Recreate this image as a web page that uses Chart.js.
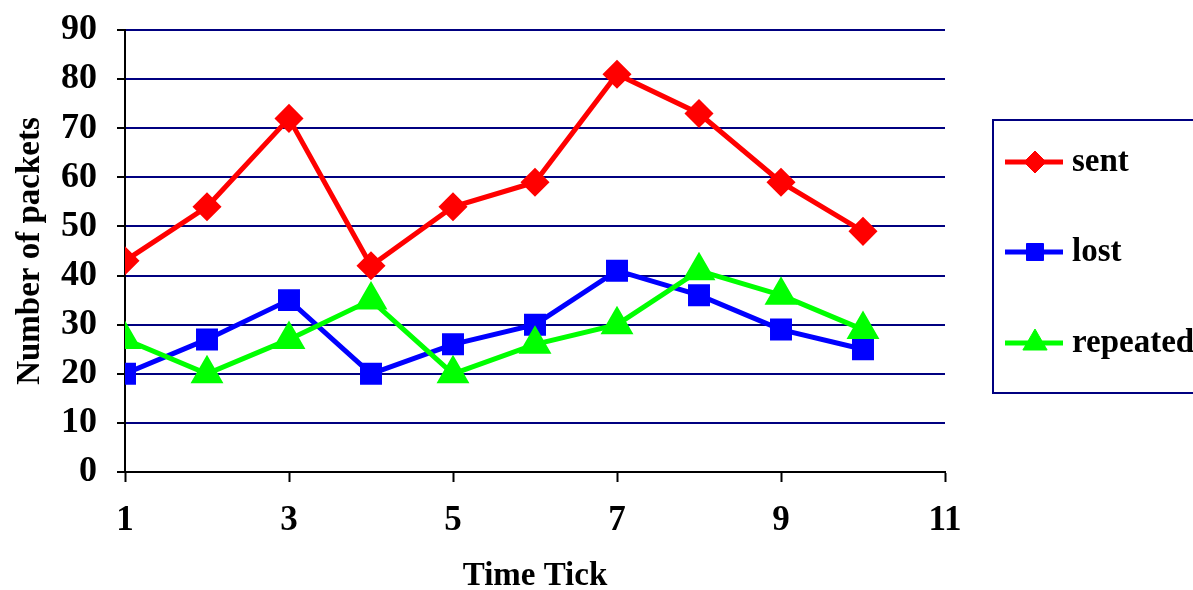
<!DOCTYPE html>
<html>
<head>
<meta charset="utf-8">
<title>Packets per time tick</title>
<script src="https://cdn.jsdelivr.net/npm/chart.js@4.4.1/dist/chart.umd.min.js"></script>
<style>
  html, body { margin: 0; padding: 0; background: #fff; }
  #chart { display: block; }
</style>
</head>
<body>
<canvas id="chart" width="1193" height="590"></canvas>
<script>
const timeTicks = [1, 2, 3, 4, 5, 6, 7, 8, 9, 10];
const sent = [43, 54, 72, 42, 54, 59, 81, 73, 59, 49];
const lost = [20, 27, 35, 20, 26, 30, 41, 36, 29, 25];
const repeated = [27, 20, 27, 35, 20, 26, 30, 41, 36, 29];

const FONT = '"Liberation Serif", "Times New Roman", serif';
const NAVY = '#000080';

const toPoints = (values) => timeTicks.map((t, i) => ({ x: t, y: values[i] }));

// legend in a framed box to the right of the plot, line + marker per series
const boxLegend = {
  id: 'boxLegend',
  afterDraw(chart) {
    const ctx = chart.ctx;
    const box = { left: 993, top: 120, right: 1205, bottom: 393 };
    const rows = [162, 252, 343];
    ctx.save();
    ctx.strokeStyle = NAVY;
    ctx.lineWidth = 2;
    ctx.strokeRect(box.left, box.top, box.right - box.left, box.bottom - box.top);

    chart.data.datasets.forEach((ds, i) => {
      const y = rows[i];
      ctx.strokeStyle = ds.borderColor;
      ctx.lineWidth = ds.borderWidth;
      ctx.beginPath();
      ctx.moveTo(1005, y);
      ctx.lineTo(1063, y);
      ctx.stroke();

      ctx.fillStyle = ds.pointBackgroundColor;
      ctx.strokeStyle = ds.pointBorderColor;
      ctx.lineWidth = 1;
      Chart.helpers.drawPoint(ctx, { pointStyle: ds.pointStyle, radius: ds.pointRadius, rotation: 0, borderWidth: 1 }, 1035, y);

      ctx.fillStyle = '#000';
      ctx.font = 'bold 33px ' + FONT;
      ctx.textAlign = 'left';
      ctx.textBaseline = 'middle';
      ctx.fillText(ds.label, 1072, y);
    });
    ctx.restore();
  }
};

new Chart(document.getElementById('chart'), {
  type: 'line',
  data: {
    datasets: [
      {
        label: 'sent',
        data: toPoints(sent),
        borderColor: '#ff0000',
        borderWidth: 5,
        pointStyle: 'rectRot',
        pointRadius: 11,
        pointBackgroundColor: '#ff0000',
        pointBorderColor: '#ff0000',
        order: 3,
      },
      {
        label: 'lost',
        data: toPoints(lost),
        borderColor: '#0000ff',
        borderWidth: 5,
        pointStyle: 'rect',
        pointRadius: 12,
        pointBackgroundColor: '#0000ff',
        pointBorderColor: '#0000ff',
        order: 2,
      },
      {
        label: 'repeated',
        data: toPoints(repeated),
        borderColor: '#00ff00',
        borderWidth: 5,
        pointStyle: 'triangle',
        pointRadius: 14,
        pointBackgroundColor: '#00ff00',
        pointBorderColor: '#00ff00',
        order: 1,
      },
    ],
  },
  options: {
    responsive: false,
    animation: false,
    layout: { padding: { left: 0, top: 30, right: 248, bottom: 0 } },
    elements: { line: { tension: 0 }, point: { borderWidth: 1 } },
    plugins: {
      legend: { display: false },
      tooltip: { enabled: false },
    },
    scales: {
      x: {
        type: 'linear',
        min: 1,
        max: 11,
        ticks: {
          stepSize: 2,
          color: '#000',
          padding: 18,
          maxRotation: 0,
          font: { family: FONT, size: 35, weight: 'bold' },
        },
        grid: {
          drawOnChartArea: false,
          drawTicks: true,
          tickLength: 10,
          tickColor: '#000',
          tickWidth: 2,
        },
        border: { color: '#000', width: 2 },
        title: {
          display: true,
          text: 'Time Tick',
          color: '#000',
          padding: { top: 0, bottom: -3 },
          font: { family: FONT, size: 33, weight: 'bold', lineHeight: 1 },
        },
        afterFit(scale) {
          scale.height = 118;
          scale.paddingLeft = 0;
          scale.paddingRight = 0;
        },
      },
      y: {
        min: 0,
        max: 90,
        ticks: {
          stepSize: 10,
          color: '#000',
          padding: 20,
          font: { family: FONT, size: 36, weight: 'bold' },
        },
        grid: {
          color: (c) => (c.tick && c.tick.value === 0 ? '#000' : NAVY),
          lineWidth: 2,
          tickLength: 8,
          tickColor: '#000',
          tickWidth: 2,
        },
        border: { color: '#000', width: 2 },
        title: {
          display: true,
          text: 'Number of packets',
          color: '#000',
          padding: { top: 14, bottom: 0 },
          font: { family: FONT, size: 33, weight: 'bold', lineHeight: 1 },
        },
        afterFit(scale) {
          scale.width = 125;
          scale.paddingTop = 0;
          scale.paddingBottom = 0;
        },
      },
    },
  },
  plugins: [boxLegend],
});
</script>
</body>
</html>
